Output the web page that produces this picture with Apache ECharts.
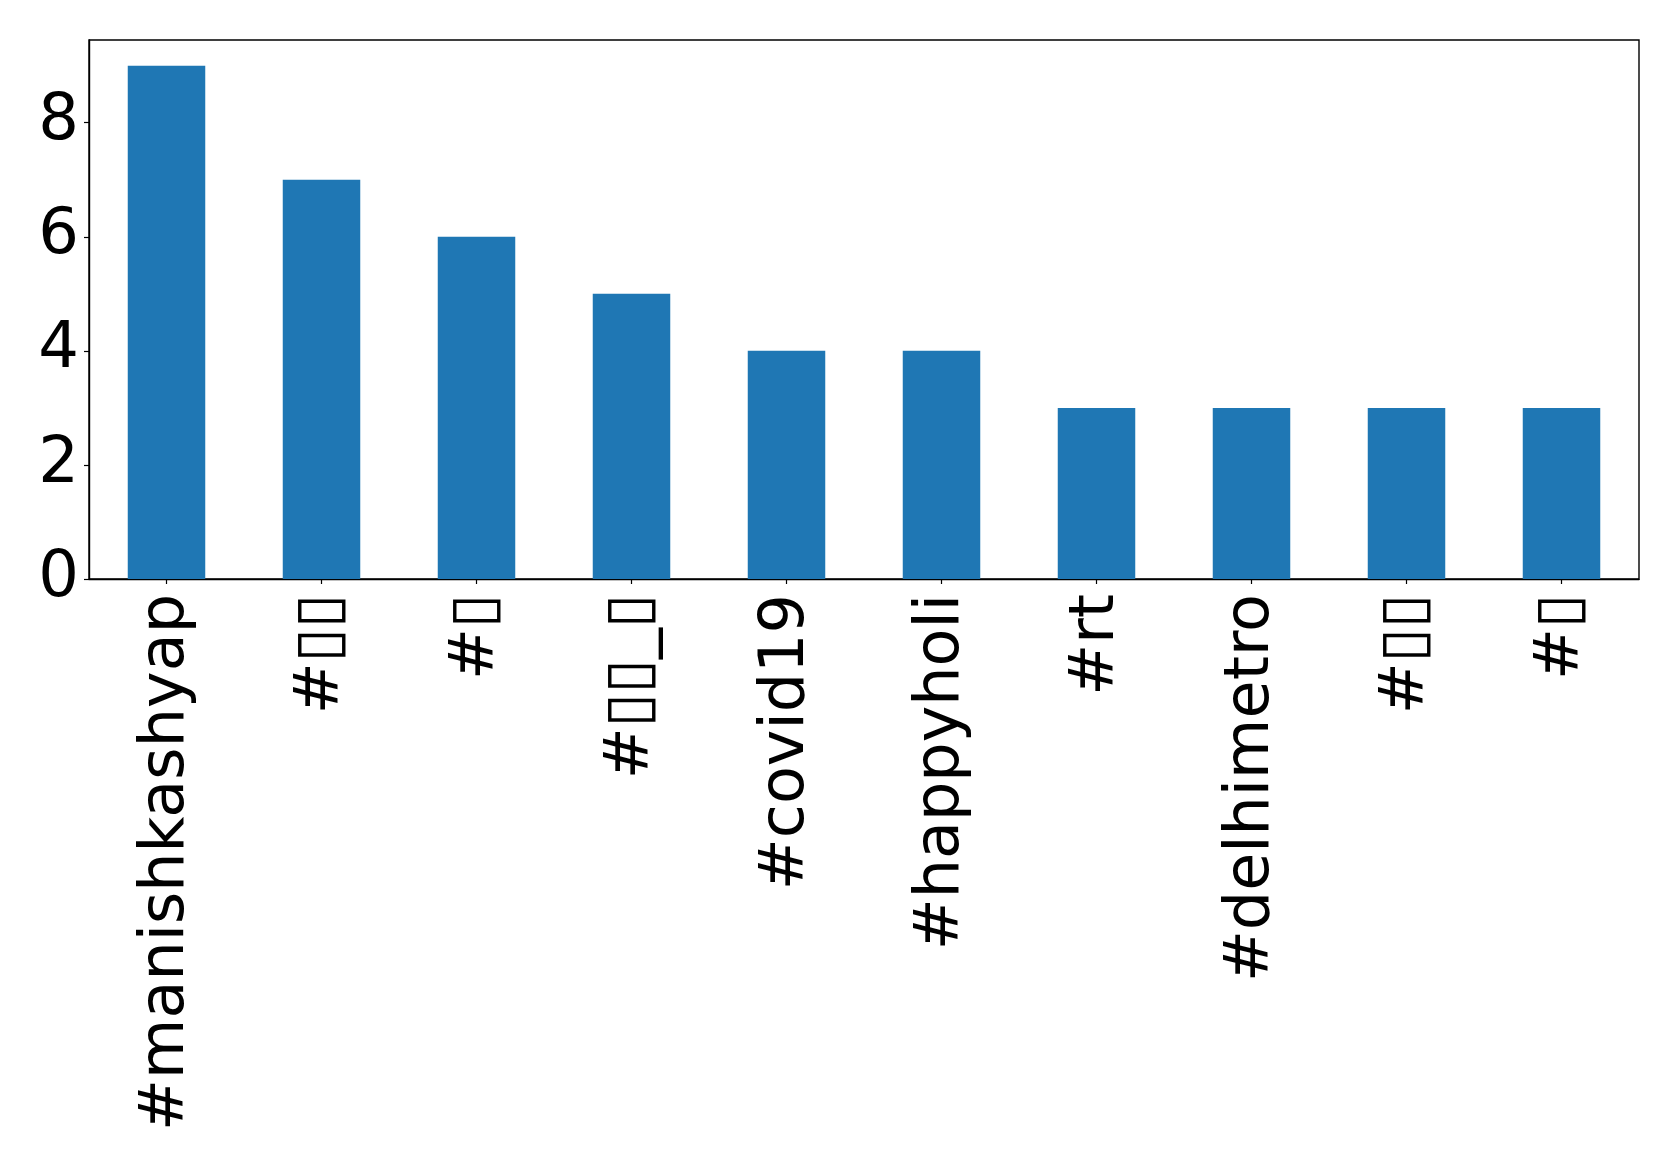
<!DOCTYPE html>
<html>
<head>
<meta charset="utf-8">
<script src="https://cdn.jsdelivr.net/npm/echarts@6/dist/echarts.min.js"></script>
<style>
html,body{margin:0;padding:0;background:#fff;}
#chart{width:1679px;height:1169px;}
</style>
</head>
<body>
<div id="chart"></div>
<script>
const categories = ['#manishkashyap', '#\u25AF\u25AF', '#\u25AF', '#\u25AF\u25AF_\u25AF', '#covid19', '#happyholi', '#rt', '#delhimetro', '#\u25AF\u25AF', '#\u25AF'];
const counts = [9, 7, 6, 5, 4, 4, 3, 3, 3, 3];
const yTicks = [0, 2, 4, 6, 8];

const chart = echarts.init(document.getElementById('chart'), null, {renderer: 'canvas'});
chart.setOption({
  animation: false,
  backgroundColor: '#ffffff',
  grid: {
    left: 89, right: 40, top: 40, bottom: 590,
    show: true, borderColor: '#000', borderWidth: 1.4, backgroundColor: 'transparent',
    containLabel: false
  },
  xAxis: {
    type: 'category',
    data: categories,
    boundaryGap: true,
    axisLine: {show: true, lineStyle: {color: '#000', width: 1.4}},
    axisTick: {show: true, alignWithLabel: true, length: 5, lineStyle: {color: '#000', width: 1.2}},
    axisLabel: {
      interval: 0, rotate: 90, margin: 15,
      fontFamily: 'DejaVu Sans', fontSize: 62, color: '#000'
    },
    splitLine: {show: false}
  },
  yAxis: {
    type: 'value',
    min: 0, max: 9.45,
    axisLine: {show: true, lineStyle: {color: '#000', width: 1.4}},
    axisTick: {show: true, length: 5, lineStyle: {color: '#000', width: 1.2}, customValues: yTicks},
    axisLabel: {
      margin: 10, fontFamily: 'DejaVu Sans', fontSize: 64, color: '#000',
      customValues: yTicks
    },
    splitLine: {show: false}
  },
  series: [{
    type: 'bar',
    data: counts,
    barWidth: '50%',
    itemStyle: {color: '#1f77b4'}
  }]
});
</script>
</body>
</html>
